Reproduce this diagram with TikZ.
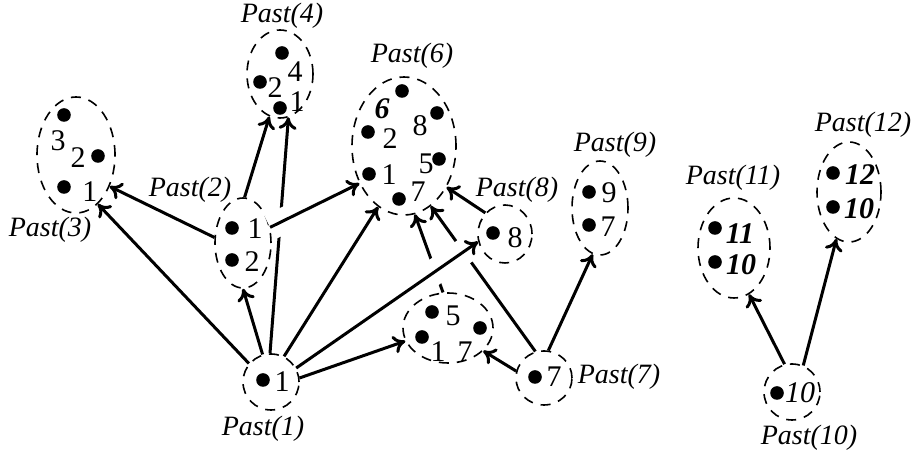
\documentclass[tikz,border=0pt]{standalone}
\usepackage{fontspec}
\setmainfont{Liberation Serif}
\usetikzlibrary{shapes.geometric,arrows.meta}

\tikzset{
  past/.style={ellipse, draw, dash pattern=on 5pt off 4pt, line width=0.8pt, inner sep=0pt},
  spot/.style={circle, fill, inner sep=0pt, minimum size=6.8pt},
  num/.style={inner sep=0pt, font=\fontsize{15}{17}\selectfont},
  lbl/.style={inner sep=0pt, font=\fontsize{14}{16}\selectfont\itshape},
  arr/.style={line width=1.5pt, -{To[length=6pt,width=9pt]}},
  over/.style={preaction={draw=white, -, line width=13pt, #1}}
}

\begin{document}
\begin{tikzpicture}[x=0.5pt, y=-0.5pt]
    \useasboundingbox (0,0) rectangle (911,453);
    % the pasts
    \node[past, minimum width=28pt, minimum height=28pt] (p1) at (271,382) {};
    \node[past, minimum width=28pt, minimum height=45pt] (p2) at (243,243) {};
    \node[past, minimum width=39pt, minimum height=58pt] (p3) at (76,155) {};
    \node[past, minimum width=33pt, minimum height=44pt] (p4) at (280,74) {};
    \node[past, minimum width=45pt, minimum height=35pt] (p5) at (448,328) {};
    \node[past, minimum width=52pt, minimum height=69pt] (p6) at (404,146) {};
    \node[past, minimum width=28pt, minimum height=27pt] (p7) at (544,378) {};
    \node[past, minimum width=27pt, minimum height=29pt] (p8) at (505,234) {};
    \node[past, minimum width=28pt, minimum height=47pt] (p9) at (600,208) {};
    \node[past, minimum width=28pt, minimum height=28pt] (p10) at (792,392) {};
    \node[past, minimum width=36pt, minimum height=50pt] (p11) at (734,248) {};
    \node[past, minimum width=32pt, minimum height=50pt] (p12) at (849,192) {};
    % events inside
    \node[spot] (d1a) at (263,380) {};
    \node[num] (n1a) at (282,382) {1};
    \node[spot] (d2a) at (232,228) {};
    \node[num] (n2a) at (255,229) {1};
    \node[spot] (d2b) at (232,260) {};
    \node[num] (n2b) at (252,262) {2};
    \node[spot] (d3a) at (64,115) {};
    \node[num] (n3a) at (58,141) {3};
    \node[spot] (d3b) at (98,156) {};
    \node[num] (n3b) at (78,158) {2};
    \node[spot] (d3c) at (64,187) {};
    \node[num] (n3c) at (90,192) {1};
    \node[spot] (d4a) at (282,53) {};
    \node[num] (n4a) at (295,72) {4};
    \node[spot] (d4b) at (260,82) {};
    \node[num] (n4b) at (275,88) {2};
    \node[spot] (d4c) at (280,108) {};
    \node[num] (n4c) at (297,102) {1};
    \node[spot] (d5a) at (432,312) {};
    \node[num] (n5a) at (453,316) {5};
    \node[spot] (d5b) at (422,337) {};
    \node[num] (n5b) at (438,352) {1};
    \node[spot] (d5c) at (480,328) {};
    \node[num] (n5c) at (465,352) {7};
    \node[spot] (d6a) at (402,91) {};
    \node[num] (n6a) at (382,109) {\bfseries\itshape 6};
    \node[spot] (d6b) at (437,113) {};
    \node[num] (n6b) at (420,126) {8};
    \node[spot] (d6c) at (368,132) {};
    \node[num] (n6c) at (390,139) {2};
    \node[spot] (d6d) at (439,159) {};
    \node[num] (n6d) at (426,164) {5};
    \node[spot] (d6e) at (369,174) {};
    \node[num] (n6e) at (389,175) {1};
    \node[spot] (d6f) at (399,199) {};
    \node[num] (n6f) at (418,192) {7};
    \node[spot] (d7a) at (535,377) {};
    \node[num] (n7a) at (554,377) {7};
    \node[spot] (d8a) at (493,233) {};
    \node[num] (n8a) at (515,238) {8};
    \node[spot] (d9a) at (589,192) {};
    \node[num] (n9a) at (609,193) {9};
    \node[spot] (d9b) at (589,225) {};
    \node[num] (n9b) at (608,227) {7};
    \node[spot] (d10a) at (777,393) {};
    \node[num] (n10a) at (800,393) {\itshape 10};
    \node[spot] (d11a) at (715,228) {};
    \node[num] (n11a) at (740,234) {\bfseries\itshape 11};
    \node[spot] (d11b) at (715,262) {};
    \node[num] (n11b) at (741,265) {\bfseries\itshape 10};
    \node[spot] (d12a) at (833,173) {};
    \node[num] (n12a) at (860,175) {\bfseries\itshape 12};
    \node[spot] (d12b) at (833,207) {};
    \node[num] (n12b) at (859,209) {\bfseries\itshape 10};
    % names
    \node[lbl] (l1) at (263,429) {Past(1)};
    \node[lbl] (l2) at (190,190) {Past(2)};
    \node[lbl] (l3) at (50,230) {Past(3)};
    \node[lbl] (l4) at (282,16) {Past(4)};
    \node[lbl] (l6) at (412,56) {Past(6)};
    \node[lbl] (l7) at (619,377) {Past(7)};
    \node[lbl] (l8) at (517,190) {Past(8)};
    \node[lbl] (l9) at (615,145) {Past(9)};
    \node[lbl] (l10) at (809,438) {Past(10)};
    \node[lbl] (l11) at (733,178) {Past(11)};
    \node[lbl] (l12) at (863,125) {Past(12)};
    % arrows
    \draw[arr] (p1.140) -- (p3.-66);
    \draw[arr] (p2.169) -- (p3.-43);
    \draw[arr] (p1.107) -- (p2.-90);
    \draw[arr] (p2.88) -- (p4.-104);
    \draw[arr] (p1.92) -- (p4.-79);
    \draw[arr] (p1.63) -- (p6.-113);
    \draw[arr] (p1.8) -- (p5.-163);
    \draw[arr] (p5.98) -- (p6.-81);
    \draw[arr] (p7.108) -- (p6.-66);
    \draw[arr] (p8.133) -- (p6.-44);
    \draw[arr] (p7.166) -- (p5.-33);
    \draw[arr] (p7.81) -- (p9.-99);
    \draw[arr] (p10.105) -- (p11.-72);
    \draw[arr] (p10.67) -- (p12.-105);
    \draw[arr, over={shorten >=35pt}] (p2.30) -- (p6.-140);
    \draw[arr, over={shorten <=77pt, shorten >=5pt}] (p1.29) -- (p8.-164);
\end{tikzpicture}
\end{document}
